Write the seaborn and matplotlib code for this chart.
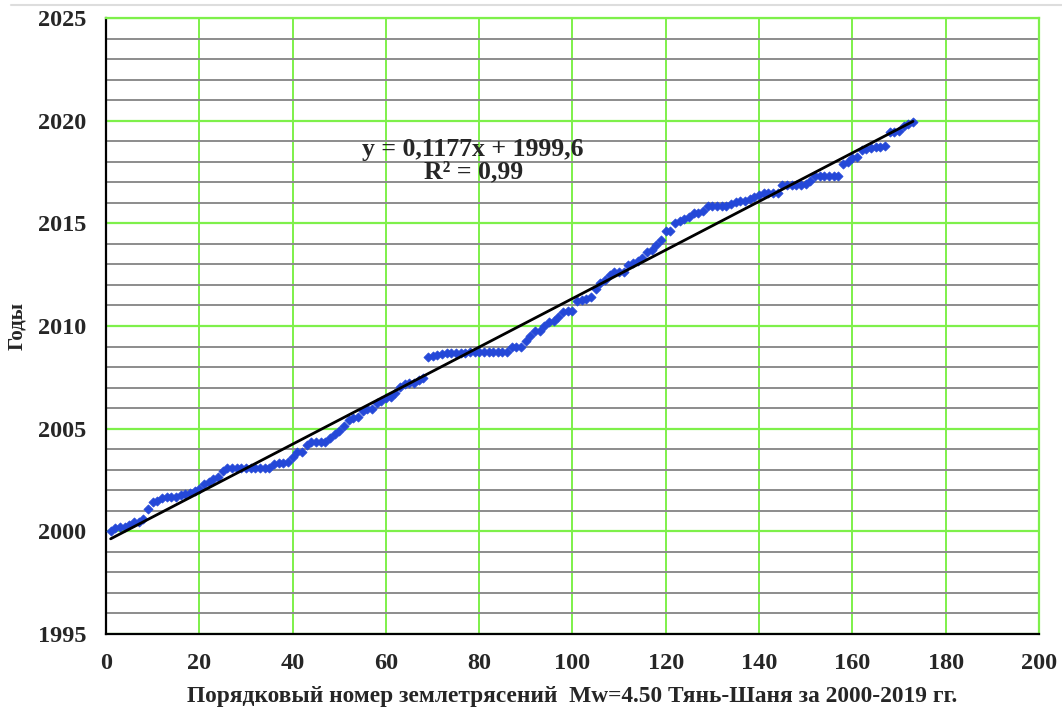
import numpy as np
import pandas as pd
import matplotlib
matplotlib.use("Agg")
import matplotlib.pyplot as plt
from matplotlib.lines import Line2D
import seaborn as sns

# event years, earthquake number 1..173
years = (
    [2000.0]
    + [2000.15, 2000.2, 2000.2, 2000.3, 2000.45, 2000.45, 2000.6]
    + [2001.1]
    + [2001.42, 2001.5, 2001.6, 2001.65, 2001.65, 2001.65, 2001.77, 2001.82, 2001.88]
    + [2001.95, 2002.05]
    + [2002.3, 2002.42, 2002.53, 2002.63]
    + [2002.95]
    + [2003.07] * 10
    + [2003.28, 2003.35, 2003.35, 2003.36]
    + [2003.64, 2003.85, 2003.85]
    + [2004.2, 2004.33, 2004.37, 2004.37, 2004.37]
    + [2004.56, 2004.73, 2004.9, 2005.15]
    + [2005.42, 2005.5, 2005.58]
    + [2005.88, 2005.96, 2005.96]
    + [2006.27, 2006.37, 2006.48]
    + [2006.56, 2006.72, 2007.02, 2007.18, 2007.21, 2007.21]
    + [2007.37, 2007.48]
    + [2008.48, 2008.54, 2008.59, 2008.64] + [2008.7] * 5 + [2008.75] * 4
    + [2008.75] * 5
    + [2009.0] * 3
    + [2009.27, 2009.5, 2009.75, 2009.75, 2010.0, 2010.2, 2010.22, 2010.45]
    + [2010.7, 2010.75, 2010.75]
    + [2011.2, 2011.25, 2011.3, 2011.4]
    + [2011.8, 2012.1, 2012.25]
    + [2012.5, 2012.65, 2012.65, 2012.65]
    + [2012.95, 2013.05, 2013.17, 2013.3]
    + [2013.6, 2013.7, 2013.95, 2014.2]
    + [2014.65, 2014.65]
    + [2015.03, 2015.13, 2015.2, 2015.33]
    + [2015.52, 2015.52, 2015.62]
    + [2015.85] * 5
    + [2015.95, 2016.05, 2016.1, 2016.1, 2016.17]
    + [2016.3, 2016.38, 2016.47, 2016.47, 2016.47, 2016.5]
    + [2016.87] * 5 + [2016.92, 2017.08]
    + [2017.3] * 6
    + [2017.88, 2018.0, 2018.17, 2018.22]
    + [2018.57, 2018.62, 2018.65, 2018.7, 2018.74, 2018.79]
    + [2019.47, 2019.47, 2019.52]
    + [2019.74, 2019.82, 2019.92]
)
numbers = list(range(1, len(years) + 1))

x_ticks = list(range(0, 201, 20))
y_ticks = list(range(1995, 2026, 5))
y_minor = list(range(1995, 2026))

x_label = "Порядковый номер землетрясений  Mw=4.50 Тянь-Шаня за 2000-2019 гг."
y_label = "Годы"
eq_text = "y = 0,1177x + 1999,6\nR² = 0,99"

df = pd.DataFrame({"n": numbers, "year": years})

sns.set_theme(style="white")
plt.rcParams["font.family"] = ["Liberation Serif", "DejaVu Serif"]
plt.rcParams["font.weight"] = "bold"

green = "#7ef04a"
gray = "#8c8c8c"

fig = plt.figure(figsize=(10.62, 7.09), dpi=100)
ax = fig.add_axes([0.0998, 0.1058, 0.8785, 0.8688])

ax.set_xlim(0, 200)
ax.set_ylim(1995, 2025)
ax.set_xticks(x_ticks)
ax.set_yticks(y_ticks)
ax.set_yticks(y_minor, minor=True)

# gridlines: gray every year, green every 5 years and every 20 numbers
ax.grid(which="minor", axis="y", color=gray, linewidth=1.4, zorder=0)
ax.grid(which="major", axis="y", color=green, linewidth=1.6, zorder=0)
ax.grid(which="major", axis="x", color=green, linewidth=1.4, zorder=0)
ax.set_axisbelow(True)

for side in ["top", "right"]:
    ax.spines[side].set_color(green)
    ax.spines[side].set_linewidth(1.6)
for side in ["left", "bottom"]:
    ax.spines[side].set_color("black")
    ax.spines[side].set_linewidth(1.6)

sns.scatterplot(data=df, x="n", y="year", ax=ax, marker="D", s=22,
                color="#2448d8", edgecolor="#2448d8", linewidth=0.5, zorder=3)
sns.regplot(data=df, x="n", y="year", ax=ax, scatter=False, ci=None,
            truncate=True, line_kws={"color": "black", "linewidth": 2.0, "zorder": 4})

ax.text(78.7, 2018.05, eq_text, ha="center", va="center", fontsize=18.5,
        fontweight="bold", linespacing=0.95, zorder=5)

ax.tick_params(axis="both", which="both", length=0, labelsize=17.5, pad=14)
for lab in ax.get_xticklabels() + ax.get_yticklabels():
    lab.set_fontweight("bold")

ax.set_xlabel(x_label, fontsize=16.8, fontweight="bold", labelpad=8)
ax.set_ylabel(y_label, fontsize=15, fontweight="bold", labelpad=8)

fig.add_artist(Line2D([0.01, 1.0], [0.993, 0.993], color="#dddddd",
                      linewidth=1.5, transform=fig.transFigure))

fig.savefig("out.png", dpi=100, facecolor="white")
